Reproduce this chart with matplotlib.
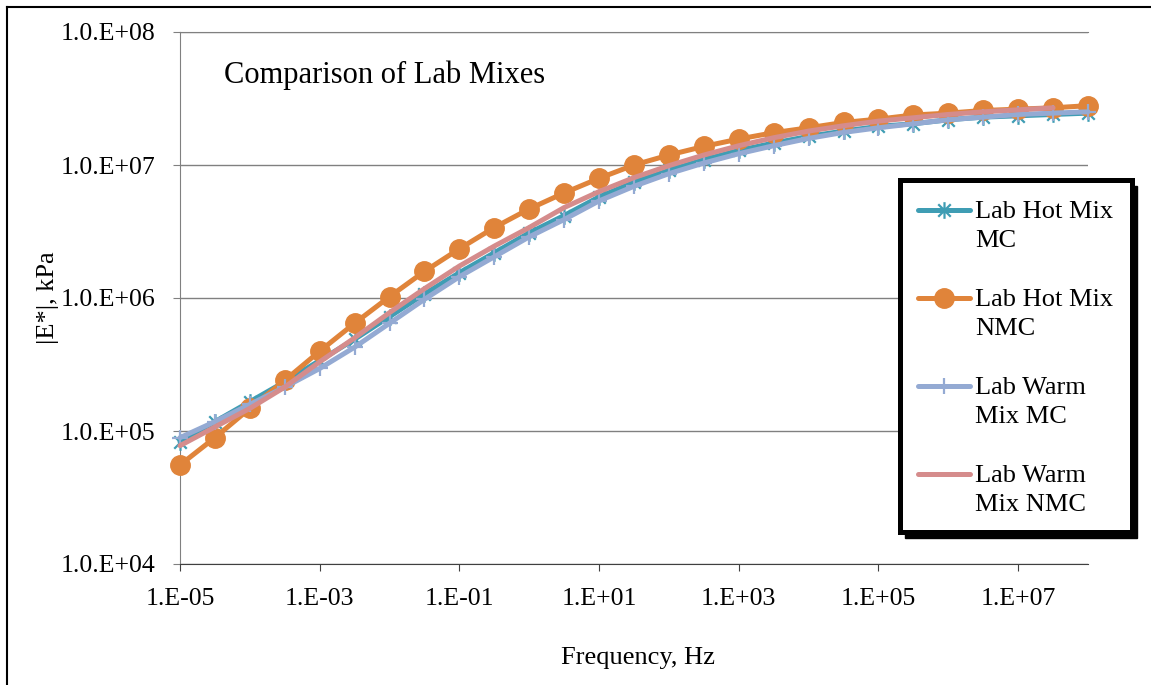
import numpy as np
import matplotlib.pyplot as plt
from matplotlib.path import Path
from matplotlib.lines import Line2D
from matplotlib.patches import Rectangle

# ---------------- data (|E*| in kPa) ----------------
freq = [1e-5, 3.16e-5, 1e-4, 3.16e-4, 1e-3, 3.16e-3, 1e-2, 3.16e-2, 1e-1, 3.16e-1,
        1e0, 3.16e0, 1e1, 3.16e1, 1e2, 3.16e2, 1e3, 3.16e3, 1e4, 3.16e4,
        1e5, 3.16e5, 1e6, 3.16e6, 1e7, 3.16e7, 1e8]

hot_mc = [83200, 117500, 166000, 234400, 338800, 489800, 724400, 1072000, 1549000, 2188000,
          3090000, 4169000, 5754000, 7413000, 9120000, 10960000, 12880000, 14620000, 16410000, 17990000,
          19500000, 20420000, 21880000, 22910000, 23440000, 23990000, 24550000]

hot_nmc = [55500, 89100, 148000, 240000, 398000, 646000, 1023000, 1585000, 2344000, 3388000,
           4677000, 6166000, 7943000, 10000000, 11885000, 13800000, 15670000, 17500000, 19050000, 20890000,
           22130000, 23770000, 24550000, 25700000, 26300000, 26920000, 27930000]

warm_mc = [89100, 117500, 158500, 213800, 295100, 426600, 645700, 977200, 1445000, 2042000,
           2884000, 3890000, 5370000, 6918000, 8610000, 10350000, 12160000, 13960000, 15850000, 17580000,
           19050000, 20420000, 21880000, 22910000, 23990000, 24550000, 25120000]

warm_nmc = [77600, 107200, 147900, 213800, 331100, 501200, 776200, 1175000, 1738000, 2455000,
            3388000, 4786000, 6310000, 8035000, 9886000, 11885000, 13960000, 16030000, 17990000, 19720000,
            21380000, 22650000, 23990000, 25120000, 26000000, 26920000]

labels = ['Lab Hot Mix\nMC', 'Lab Hot Mix\nNMC', 'Lab Warm\nMix MC', 'Lab Warm\nMix NMC']
x_ticks = [1e-5, 1e-3, 1e-1, 1e1, 1e3, 1e5, 1e7]
x_ticklabels = ['1.E-05', '1.E-03', '1.E-01', '1.E+01', '1.E+03', '1.E+05', '1.E+07']
y_ticks = [1e4, 1e5, 1e6, 1e7, 1e8]
y_ticklabels = ['1.0.E+04', '1.0.E+05', '1.0.E+06', '1.0.E+07', '1.0.E+08']

# ---------------- style ----------------
plt.rcParams['font.family'] = 'Liberation Serif'
teal = '#3f9db4'
orange = '#e0843a'
blue = '#94aad3'
pink = '#d58c8c'

# asterisk marker like Excel (vertical bar + X)
asterisk = Path([(0, -1), (0, 1), (-0.75, -0.75), (0.75, 0.75), (-0.75, 0.75), (0.75, -0.75)],
                [Path.MOVETO, Path.LINETO] * 3)

W, H = 1151, 685
fig = plt.figure(figsize=(W / 100, H / 100), dpi=100)
ax = fig.add_axes([180 / W, 1 - 564 / H, 908 / W, 532 / H])

lw = 3.6
ax.plot(freq, hot_mc, color=teal, lw=lw, marker=asterisk, ms=12, mew=1.6, mec=teal,
        solid_capstyle='round', clip_on=False, zorder=3)
ax.plot(freq, hot_nmc, color=orange, lw=lw, marker='o', ms=14, mec=orange,
        solid_capstyle='round', clip_on=False, zorder=3)
ax.plot(freq, warm_mc, color=blue, lw=lw, marker='+', ms=12, mew=1.6,
        solid_capstyle='round', clip_on=False, zorder=3)
ax.plot(freq[:len(warm_nmc)], warm_nmc, color=pink, lw=lw,
        solid_capstyle='round', clip_on=False, zorder=3)

ax.set_xscale('log')
ax.set_yscale('log')
ax.set_xlim(1e-5, 1e8)
ax.set_ylim(1e4, 1e8)
ax.set_xticks(x_ticks)
ax.set_xticklabels(x_ticklabels)
ax.set_yticks(y_ticks)
ax.set_yticklabels(y_ticklabels)
ax.xaxis.set_minor_locator(plt.NullLocator())
ax.yaxis.set_minor_locator(plt.NullLocator())

ax.yaxis.grid(True, color='#808080', lw=1)
ax.spines['right'].set_visible(False)
ax.spines['top'].set_color('#808080')
ax.spines['left'].set_color('#808080')
ax.spines['bottom'].set_color('#404040')
ax.tick_params(axis='y', direction='out', length=5, color='#808080', labelsize=18.5, pad=13)
ax.tick_params(axis='x', direction='out', length=5, color='#404040', labelsize=18.5, pad=12)

ax.text(0.048, 0.919, 'Comparison of Lab Mixes', transform=ax.transAxes,
        fontsize=22, va='center', ha='left')
fig.text(638 / W, 1 - 658 / H, 'Frequency, Hz', fontsize=19, ha='center', va='center')
fig.text(48 / W, 1 - 298 / H, '|E*|, kPa', fontsize=19, ha='center', va='center', rotation=90)

# ---------------- legend box ----------------
shadow = Rectangle((905 / W, 1 - 538 / H), 232 / W, 352 / H, transform=fig.transFigure,
                   color='black', zorder=2)
fig.add_artist(shadow)
lax = fig.add_axes([900 / W, 1 - 532 / H, 232 / W, 352 / H])
lax.set_zorder(3)
lax.set_xlim(0, 232)
lax.set_ylim(352, 0)
lax.set_xticks([])
lax.set_yticks([])
for s in lax.spines.values():
    s.set_linewidth(3.6)
    s.set_color('black')

styles = [
    dict(color=teal, marker=asterisk, ms=12, mew=1.6, mec=teal),
    dict(color=orange, marker='o', ms=14, mec=orange),
    dict(color=blue, marker='+', ms=12, mew=1.6),
    dict(color=pink),
]
for i, (lab, st) in enumerate(zip(labels, styles)):
    yy = 30 + i * 88
    lax.plot([18, 70], [yy, yy], lw=lw, solid_capstyle='round', color=st['color'])
    if 'marker' in st:
        lax.plot([44], [yy], ls='none', **st)
    lax.text(75, yy - 9, lab, fontsize=19, va='top', ha='left', linespacing=1.4)

# outer chart border (left and top)
fig.add_artist(Line2D([7 / W, 7 / W], [0, 1 - 7 / H], transform=fig.transFigure, color='black', lw=1.5))
fig.add_artist(Line2D([7 / W, 1], [1 - 7 / H, 1 - 7 / H], transform=fig.transFigure, color='black', lw=1.5))

fig.savefig('out.png', dpi=100)
